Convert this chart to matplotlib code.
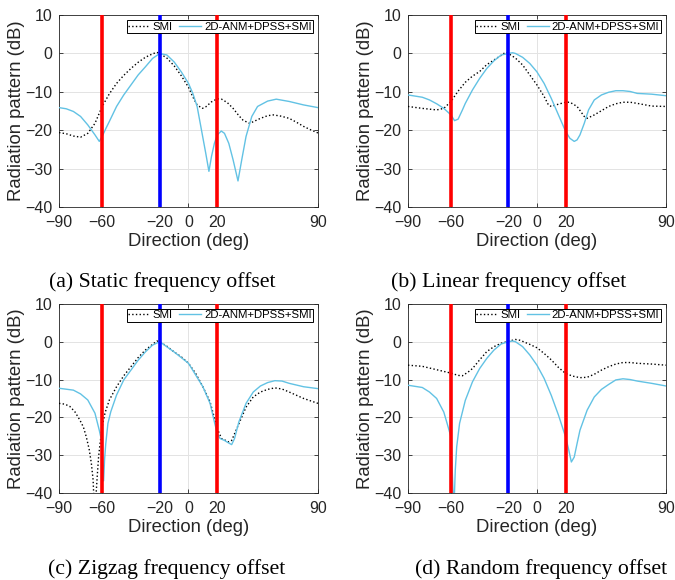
import matplotlib.pyplot as plt

# ---- (a) static frequency offset ----
ang_a_smi = [-90, -85, -80, -75, -70, -65, -60, -55, -50, -45, -40, -35, -30, -25, -22, -20, -15, -10, -5, 0, 3, 6, 9.6, 12, 16, 20, 23, 27, 31, 35, 38, 42.5, 46, 50, 55, 59, 64, 70, 75, 80, 85, 90]
pat_a_smi = [-20.6, -20.9, -21.5, -21.8, -20.8, -18.2, -13.8, -10.5, -7.8, -5.7, -3.9, -2.3, -1.0, -0.1, 0.3, 0.0, -1.2, -3.2, -5.8, -8.8, -11.3, -13.4, -14.3, -13.9, -12.6, -11.8, -11.9, -12.8, -14.3, -16.2, -17.4, -18.2, -17.6, -16.9, -16.2, -16.0, -16.3, -16.9, -17.9, -19.0, -19.9, -20.7]
ang_a_anm = [-90, -85, -80, -75, -70, -65, -62, -60, -57.5, -55, -50, -45, -40, -35, -30, -25, -20, -15, -10, -5, 0, 3, 6, 9, 12, 14.2, 16, 18, 20, 22.8, 25, 28, 31, 34.4, 37, 40, 44, 48, 55, 61, 70, 80, 90]
pat_a_anm = [-14.1, -14.4, -15.1, -16.4, -18.6, -21.2, -22.9, -21.6, -19.6, -17.7, -13.8, -10.8, -8.2, -5.6, -3.5, -1.3, 0.0, -0.4, -2.2, -4.8, -7.8, -10.4, -13.8, -19.9, -26.0, -30.7, -26.8, -23.4, -21.2, -20.2, -20.8, -23.4, -27.7, -33.2, -27.7, -21.6, -16.4, -13.8, -12.4, -11.9, -12.5, -13.4, -14.1]

# ---- (b) linear frequency offset ----
ang_b_smi = [-90, -80, -70, -65, -60, -55, -50, -45, -40, -35, -30, -25, -22, -20, -15, -10, -5, 0, 5, 8, 10, 15, 20, 23, 28, 33, 35, 40, 45, 50, 55, 60, 65, 70, 80, 90]
pat_b_smi = [-13.8, -14.3, -14.7, -14.3, -12.5, -9.8, -7.5, -5.9, -4.7, -2.9, -1.7, -0.5, 0.3, 0.0, -1.2, -3.0, -5.6, -8.2, -11.2, -13.4, -13.8, -13.2, -12.7, -12.7, -13.8, -16.4, -16.9, -16.0, -14.9, -13.8, -13.1, -12.7, -12.7, -13.0, -13.7, -13.8]
ang_b_anm = [-90, -80, -75, -70, -65, -60, -57.5, -55, -52, -50, -45, -40, -35, -30, -25, -20, -17, -15, -10, -5, 0, 5, 10, 15, 20, 23, 26, 28, 30, 33, 36, 40, 45, 50, 55, 60, 65, 70, 80, 90]
pat_b_anm = [-10.8, -11.4, -12.1, -13.1, -14.3, -16.0, -17.5, -17.1, -14.7, -13.0, -9.5, -6.5, -3.9, -1.9, -0.4, 0.0, 0.2, 0.0, -1.0, -2.6, -4.8, -7.8, -11.7, -16.0, -20.3, -22.1, -22.9, -22.5, -21.2, -18.2, -14.7, -12.1, -10.8, -10.1, -9.7, -9.7, -9.9, -10.4, -10.6, -11.0]

# ---- (c) zigzag frequency offset ----
ang_c_smi = [-90, -86, -82.5, -79, -75.5, -73, -71, -69, -67.5, -66.3, -65.7, -64.5, -63.5, -62.5, -61.5, -60, -58, -55, -50, -45, -40, -35, -30, -25, -22, -20, -15, -10, -5, 0, 5, 10, 15, 20, 23, 28, 30, 35, 40, 45, 50, 55, 60, 65, 70, 80, 90]
pat_c_smi = [-16.3, -16.5, -17.1, -18.5, -20.7, -22.6, -25.2, -28.5, -32.2, -36.5, -42.0, -42.0, -36.0, -30.5, -27.0, -22.5, -18.8, -15.4, -11.9, -9.0, -6.6, -4.2, -2.2, -0.7, 0.2, 0.0, -1.2, -2.7, -4.0, -5.7, -8.4, -11.9, -15.9, -23.0, -25.6, -26.5, -26.1, -21.7, -17.3, -14.6, -13.3, -12.6, -12.2, -12.5, -13.3, -15.0, -16.3]
ang_c_anm = [-90, -80, -75, -70, -65, -62, -60.5, -59.8, -59, -58.3, -57.5, -56, -54, -52, -50, -45, -40, -35, -30, -25, -20, -10, 0, 10, 15, 18, 20, 22, 25, 28, 30, 32, 35, 40, 45, 50, 55, 60, 65, 70, 80, 90]
pat_c_anm = [-12.3, -12.8, -13.8, -15.4, -18.9, -23.4, -26.0, -30.5, -36.8, -31.0, -27.0, -21.6, -18.5, -16.3, -14.1, -10.1, -7.5, -4.9, -2.7, -0.9, 0.0, -2.7, -5.7, -11.9, -16.3, -21.2, -24.3, -25.6, -26.1, -26.8, -27.2, -25.6, -21.2, -16.3, -13.3, -11.7, -10.8, -10.3, -10.4, -11.0, -11.9, -12.4]

# ---- (d) random frequency offset ----
ang_d_smi = [-90, -80, -70, -60, -55, -52, -48, -45, -40, -35, -30, -25, -20, -15, -12, -10, -5, 0, 5, 10, 15, 20, 25, 30, 35, 40, 45, 50, 55, 60, 65, 70, 80, 90]
pat_d_smi = [-6.2, -6.5, -7.4, -8.3, -8.9, -9.0, -8.0, -7.1, -4.8, -2.6, -1.3, -0.4, 0.1, 0.6, 0.4, 0.1, -0.7, -1.6, -3.1, -4.8, -6.8, -8.4, -9.1, -9.5, -9.4, -8.6, -7.5, -6.6, -5.9, -5.5, -5.5, -5.7, -5.9, -6.2]
ang_d_anm = [-90, -80, -75, -70, -65, -62, -60, -59, -58, -57, -56, -54, -50, -45, -40, -35, -30, -25, -20, -17, -15, -10, -5, 0, 5, 10, 15, 20, 22, 24, 26, 28, 30, 35, 40, 45, 50, 55, 60, 65, 70, 80, 90]
pat_d_anm = [-11.5, -12.1, -13.3, -15.0, -18.6, -22.5, -25.2, -35.0, -45.0, -34.0, -27.8, -21.6, -15.5, -10.6, -7.1, -4.4, -2.2, -0.6, 0.0, 0.2, 0.0, -1.3, -3.5, -6.2, -9.7, -14.2, -19.4, -25.2, -28.3, -31.8, -30.5, -26.9, -23.4, -18.1, -14.6, -12.6, -11.3, -10.1, -9.8, -10.0, -10.4, -11.0, -11.7]

interferers = [-60, 20]
target = -20
xticks = [-90, -60, -20, 0, 20, 90]
yticks = [-40, -30, -20, -10, 0, 10]
captions = ['(a) Static frequency offset', '(b) Linear frequency offset',
            '(c) Zigzag frequency offset', '(d) Random frequency offset']

panels = [
    (ang_a_smi, pat_a_smi, ang_a_anm, pat_a_anm),
    (ang_b_smi, pat_b_smi, ang_b_anm, pat_b_anm),
    (ang_c_smi, pat_c_smi, ang_c_anm, pat_c_anm),
    (ang_d_smi, pat_d_smi, ang_d_anm, pat_d_anm),
]

plt.rcParams['font.family'] = ['Liberation Sans', 'DejaVu Sans']

fig = plt.figure(figsize=(6.75, 5.8), dpi=100)

# axes boxes in figure fraction: left, bottom, width, height
boxes = [
    [0.0874, 0.643, 0.3837, 0.331],
    [0.6044, 0.643, 0.3822, 0.331],
    [0.0874, 0.150, 0.3837, 0.326],
    [0.6044, 0.150, 0.3822, 0.326],
]
cap_pos = [(0.240, 0.5138), (0.754, 0.5138), (0.247, 0.019), (0.801, 0.019)]

anm_color = '#62c2e4'
axis_grey = '#262626'

for i, (xs, ys, xa, ya) in enumerate(panels):
    ax = fig.add_axes(boxes[i])
    ax.plot(xs, ys, color='black', linestyle=':', linewidth=1.0, label='SMI', zorder=3)
    ax.plot(xa, ya, color=anm_color, linewidth=1.0, label='2D-ANM+DPSS+SMI', zorder=3)
    for a in interferers:
        ax.axvline(a, color='red', linewidth=2.6, zorder=4)
    ax.axvline(target, color='blue', linewidth=2.6, zorder=4)

    ax.set_xlim(-90, 90)
    ax.set_ylim(-40, 10)
    ax.set_xticks(xticks)
    ax.set_yticks(yticks)
    ax.tick_params(direction='in', length=3, width=0.6, labelsize=11.5,
                   top=True, right=True, colors=axis_grey)
    ax.tick_params(axis='x', pad=6)
    ax.tick_params(axis='y', pad=4.5)
    ax.grid(True, color='#e3e3e3', linewidth=0.7)
    ax.set_axisbelow(True)
    for s in ax.spines.values():
        s.set_color(axis_grey)
        s.set_linewidth(0.6)
    ax.set_xlabel('Direction (deg)', fontsize=13.3, color=axis_grey, labelpad=2)
    ax.set_ylabel('Radiation pattern (dB)', fontsize=13.3, color=axis_grey, labelpad=0.5)

    leg = ax.legend(loc='upper right', ncol=2, fontsize=8.2, frameon=True, fancybox=False,
                    edgecolor='black', framealpha=1, borderpad=0.12, handlelength=1.9,
                    handletextpad=0.25, columnspacing=0.6, borderaxespad=0.45)
    leg.get_frame().set_linewidth(0.7)

    fig.text(cap_pos[i][0], cap_pos[i][1], captions[i], ha='center', va='center',
             fontsize=15.7, family='Liberation Serif')

fig.savefig('out.png', dpi=100)
